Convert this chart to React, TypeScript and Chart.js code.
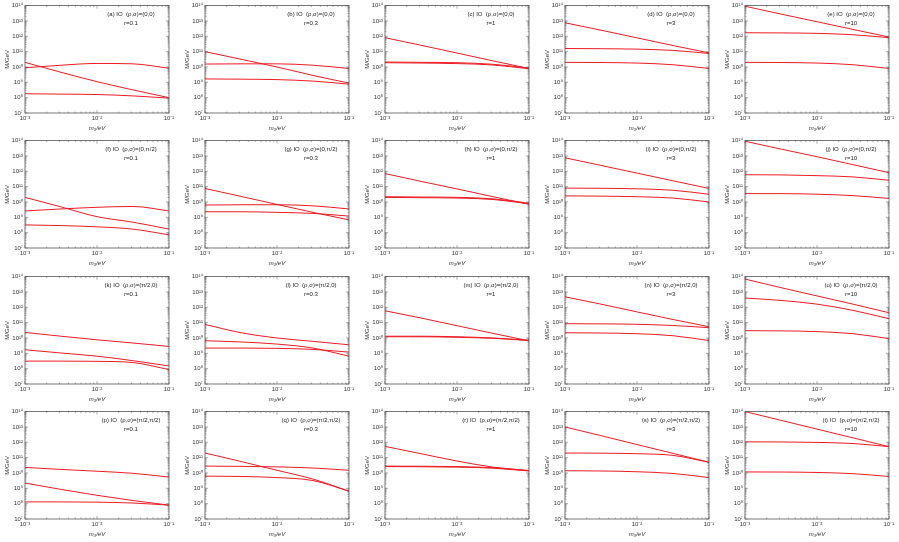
import { useEffect, useRef } from "react";
import { Chart, registerables } from "chart.js";
Chart.register(...registerables);

// lightest neutrino mass m3 (eV) sample points
const mass = [0.001, 0.00316, 0.01, 0.0316, 0.1];
const letters = ["a","b","c","d","e","f","g","h","i","j","k","l","m","n","o","p","q","r","s","t"];
const phases = ["(0,0)", "(0,π/2)", "(π/2,0)", "(π/2,π/2)"];
const rValues = ["0.1", "0.3", "1", "3", "10"];
const yTickExps = [7, 8, 9, 10, 11, 12, 13, 14];
const xTickExps = [-3, -2, -1];

// M/GeV values, three curves per panel
const a1 = [2.0e10, 4.5e9, 1.1e9, 3.2e8, 1.0e8];
const a2 = [8.9e9, 1.3e10, 1.7e10, 1.6e10, 8.3e9];
const a3 = [1.8e8, 1.7e8, 1.6e8, 1.3e8, 9.3e7];
const b1 = [1.0e11, 3.2e10, 1.0e10, 2.8e9, 8.9e8];
const b2 = [1.55e10, 1.6e10, 1.6e10, 1.3e10, 8.0e9];
const b3 = [1.66e9, 1.6e9, 1.5e9, 1.2e9, 7.6e8];
const c1 = [8.1e11, 2.6e11, 8.1e10, 2.5e10, 8.0e9];
const c2 = [2.1e10, 2.0e10, 1.9e10, 1.5e10, 8.5e9];
const c3 = [1.9e10, 1.8e10, 1.66e10, 1.35e10, 7.6e9];
const d1 = [7.6e12, 2.5e12, 7.9e11, 2.5e11, 8.3e10];
const d2 = [1.6e11, 1.55e11, 1.45e11, 1.2e11, 7.6e10];
const d3 = [2.0e10, 1.95e10, 1.8e10, 1.4e10, 8.0e9];
const e1 = [9.1e13, 2.8e13, 8.9e12, 2.8e12, 8.9e11];
const e2 = [1.7e12, 1.66e12, 1.55e12, 1.26e12, 8.1e11];
const e3 = [2.0e10, 1.95e10, 1.8e10, 1.4e10, 8.0e9];
const f1 = [2.0e10, 4.8e9, 1.1e9, 4.8e8, 1.7e8];
const f2 = [2.6e9, 3.5e9, 4.5e9, 5.1e9, 2.6e9];
const f3 = [3.2e8, 2.9e8, 2.4e8, 1.7e8, 7.2e7];
const g1 = [7.6e10, 2.3e10, 6.9e9, 2.1e9, 6.8e8];
const g2 = [6.3e9, 6.6e9, 6.6e9, 5.6e9, 3.5e9];
const g3 = [2.3e9, 2.3e9, 2.1e9, 1.8e9, 1.2e9];
const h1 = [7.1e11, 2.2e11, 7.1e10, 2.2e10, 7.1e9];
const h2 = [2.2e10, 2.1e10, 2.0e10, 1.6e10, 8.3e9];
const h3 = [2.0e10, 1.9e10, 1.8e10, 1.45e10, 7.6e9];
const i1 = [7.6e12, 2.4e12, 7.6e11, 2.4e11, 7.6e10];
const i2 = [8.0e10, 7.8e10, 7.2e10, 5.8e10, 3.2e10];
const i3 = [2.5e10, 2.4e10, 2.2e10, 1.8e10, 1.0e10];
const j1 = [9.1e13, 2.8e13, 8.9e12, 2.7e12, 8.1e11];
const j2 = [6.0e11, 5.8e11, 5.2e11, 4.3e11, 2.6e11];
const j3 = [3.5e10, 3.5e10, 3.2e10, 2.6e10, 1.7e10];
const k1 = [2.3e10, 1.3e10, 7.6e9, 4.7e9, 2.8e9];
const k2 = [1.7e9, 1.05e9, 6.5e8, 3.3e8, 1.5e8];
const k3 = [3.1e8, 3.1e8, 3.0e8, 2.5e8, 8.7e7];
const l1 = [7.6e10, 2.2e10, 1.0e10, 6.0e9, 3.6e9];
const l2 = [6.6e9, 5.5e9, 4.0e9, 2.2e9, 6.5e8];
const l3 = [2.2e9, 2.2e9, 2.1e9, 1.8e9, 1.2e9];
const m1 = [5.9e11, 2.0e11, 6.3e10, 2.0e10, 6.5e9];
const m2 = [1.3e10, 1.3e10, 1.2e10, 1.0e10, 7.1e9];
const m3 = [1.2e10, 1.2e10, 1.1e10, 9.5e9, 6.8e9];
const n1 = [4.8e12, 1.6e12, 5.0e11, 1.6e11, 5.4e10];
const n2 = [8.5e10, 8.3e10, 7.8e10, 6.5e10, 4.7e10];
const n3 = [2.2e10, 2.1e10, 1.9e10, 1.4e10, 6.8e9];
const o1 = [6.9e13, 1.9e13, 5.5e12, 1.6e12, 4.4e11];
const o2 = [4.0e12, 2.8e12, 1.6e12, 6.3e11, 1.8e11];
const o3 = [3.0e10, 2.9e10, 2.6e10, 1.9e10, 9.1e9];
const p1 = [2.3e10, 1.7e10, 1.3e10, 9.5e9, 5.4e9];
const p2 = [2.2e9, 8.5e8, 3.5e8, 1.6e8, 8.0e7];
const p3 = [1.3e8, 1.3e8, 1.25e8, 1.1e8, 8.0e7];
const q1 = [2.0e11, 5.6e10, 1.5e10, 4.0e9, 6.5e8];
const q2 = [2.8e10, 2.7e10, 2.5e10, 2.1e10, 1.5e10];
const q3 = [6.2e9, 5.9e9, 5.0e9, 3.2e9, 6.5e8];
const r1 = [5.4e11, 1.8e11, 6.0e10, 2.4e10, 1.4e10];
const r2 = [2.8e10, 2.75e10, 2.6e10, 2.2e10, 1.45e10];
const r3 = [2.6e10, 2.55e10, 2.4e10, 2.05e10, 1.35e10];
const s1 = [1.0e13, 2.7e12, 7.1e11, 1.9e11, 5.0e10];
const s2 = [2.0e11, 1.95e11, 1.8e11, 1.4e11, 5.0e10];
const s3 = [1.4e10, 1.35e10, 1.2e10, 9.3e9, 5.0e9];
const t1 = [1.0e14, 2.7e13, 7.2e12, 1.95e12, 5.2e11];
const t2 = [1.07e12, 1.05e12, 9.8e11, 8.3e11, 5.2e11];
const t3 = [1.17e10, 1.15e10, 1.08e10, 9.0e9, 5.9e9];

const panelSeries = [
  [a1, a2, a3], [b1, b2, b3], [c1, c2, c3], [d1, d2, d3], [e1, e2, e3],
  [f1, f2, f3], [g1, g2, g3], [h1, h2, h3], [i1, i2, i3], [j1, j2, j3],
  [k1, k2, k3], [l1, l2, l3], [m1, m2, m3], [n1, n2, n3], [o1, o2, o3],
  [p1, p2, p3], [q1, q2, q3], [r1, r2, r3], [s1, s2, s3], [t1, t2, t3],
];

const RED = "rgb(236,28,36)";
const FRAME = "#555555";
const FONT = "'Liberation Sans', Arial, sans-serif";
const PANEL_W = 180;
const PANEL_H = 135;
const ROW_TOPS = [0, 135, 271, 406];

function sup(n: number): string {
  const map: Record<string, string> = {
    "-": "⁻", "0": "⁰", "1": "¹", "2": "²", "3": "³", "4": "⁴",
    "5": "⁵", "6": "⁶", "7": "⁷", "8": "⁸", "9": "⁹",
  };
  return String(n).split("").map((ch) => map[ch] ?? ch).join("");
}

function isPow10(v: number): number | null {
  const l = Math.log10(v);
  const r = Math.round(l);
  return Math.abs(l - r) < 1e-6 ? r : null;
}

const framePlugin = {
  id: "frame",
  afterDraw(chart: any) {
    const { ctx, chartArea: ca, scales } = chart;
    ctx.save();
    ctx.strokeStyle = FRAME;
    ctx.lineWidth = 0.8;
    ctx.strokeRect(ca.left, ca.top, ca.right - ca.left, ca.bottom - ca.top);
    ctx.lineWidth = 0.5;
    ctx.beginPath();
    for (const e of yTickExps) {
      for (let k = 1; k < 10; k++) {
        const v = k * Math.pow(10, e);
        if (v > 1e14) break;
        const y = scales.y.getPixelForValue(v);
        const len = k === 1 ? 3 : 1.5;
        ctx.moveTo(ca.left, y); ctx.lineTo(ca.left + len, y);
        ctx.moveTo(ca.right, y); ctx.lineTo(ca.right - len, y);
      }
    }
    for (const e of xTickExps) {
      for (let k = 1; k < 10; k++) {
        const v = k * Math.pow(10, e);
        if (v > 0.1 + 1e-12) break;
        const x = scales.x.getPixelForValue(v);
        const len = k === 1 ? 3 : 1.5;
        ctx.moveTo(x, ca.bottom); ctx.lineTo(x, ca.bottom - len);
        ctx.moveTo(x, ca.top); ctx.lineTo(x, ca.top + len);
      }
    }
    ctx.stroke();
    ctx.restore();
  },
};

function labelPlugin(line1: string, line2: string) {
  return {
    id: "panelLabel",
    afterDraw(chart: any) {
      const { ctx } = chart;
      ctx.save();
      ctx.fillStyle = "#222";
      ctx.font = `6px ${FONT}`;
      ctx.textAlign = "center";
      ctx.textBaseline = "middle";
      ctx.fillText(line1, 131, 14);
      ctx.fillText(line2, 131, 23);
      ctx.restore();
    },
  };
}

function Panel({ idx }: { idx: number }) {
  const ref = useRef<HTMLCanvasElement>(null);
  const row = Math.floor(idx / 5);
  const col = idx % 5;
  useEffect(() => {
    const series = panelSeries[idx];
    const line1 = `(${letters[idx]}) IO  (ρ,σ)=${phases[row]}`;
    const line2 = `r=${rValues[col]}`;
    const chart = new Chart(ref.current as HTMLCanvasElement, {
      type: "line",
      data: {
        datasets: series.map((s) => ({
          data: s.map((v, i) => ({ x: mass[i], y: v })),
          borderColor: RED,
          borderWidth: 1,
          pointRadius: 0,
          fill: false,
          cubicInterpolationMode: "monotone" as const,
        })),
      },
      options: {
        animation: false,
        responsive: false,
        events: [],
        layout: { padding: { top: 5, right: 11, left: 0, bottom: 0 } },
        plugins: { legend: { display: false }, tooltip: { enabled: false } },
        scales: {
          x: {
            type: "logarithmic",
            min: 1e-3,
            max: 1e-1,
            grid: { display: false, drawTicks: false, tickLength: 0 },
            border: { display: false },
            afterFit(scale: any) { scale.height = 22; },
            ticks: {
              autoSkip: false,
              maxRotation: 0,
              padding: 2,
              color: "#333",
              font: { size: 6, family: FONT },
              callback: (v: any) => {
                const p = isPow10(Number(v));
                return p === null ? "" : "10" + sup(p);
              },
            },
            title: {
              display: true,
              text: "m₃/eV",
              color: "#333",
              font: { size: 6, family: FONT, style: "italic" },
              padding: { top: 0, bottom: 3 },
            },
          },
          y: {
            type: "logarithmic",
            min: 1e7,
            max: 1e14,
            grid: { display: false, drawTicks: false, tickLength: 0 },
            border: { display: false },
            afterFit(scale: any) { scale.width = 25; },
            ticks: {
              autoSkip: false,
              padding: 2,
              color: "#333",
              font: { size: 6, family: FONT },
              callback: (v: any) => {
                const p = isPow10(Number(v));
                return p === null ? "" : "10" + sup(p);
              },
            },
            title: {
              display: true,
              text: "M/GeV",
              color: "#333",
              font: { size: 6, family: FONT },
              padding: { top: 4, bottom: 0 },
            },
          },
        },
      } as any,
      plugins: [framePlugin, labelPlugin(line1, line2)],
    });
    return () => chart.destroy();
  }, [idx, row, col]);
  return (
    <canvas
      ref={ref}
      width={PANEL_W}
      height={PANEL_H}
      style={{ position: "absolute", left: col * PANEL_W, top: ROW_TOPS[row], width: PANEL_W, height: PANEL_H }}
    />
  );
}

export default function App() {
  return (
    <div style={{ position: "absolute", left: 0, top: 0, width: 899, height: 542, background: "#fff" }}>
      {panelSeries.map((_, i) => (
        <Panel key={i} idx={i} />
      ))}
    </div>
  );
}
